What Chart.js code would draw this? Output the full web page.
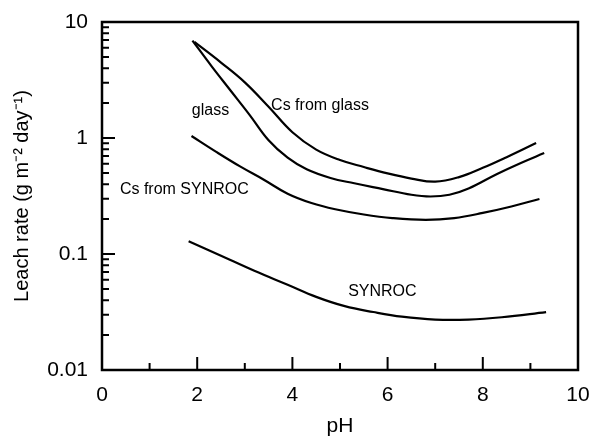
<!DOCTYPE html>
<html>
<head>
<meta charset="utf-8">
<script src="https://cdn.jsdelivr.net/npm/chart.js@4.4.1/dist/chart.umd.min.js"></script>
<style>
  html, body { margin: 0; padding: 0; background: #fff; }
  #wrap { width: 591px; height: 439px; }
</style>
</head>
<body>
<div id="wrap"><canvas id="leachChart" width="591" height="439"></canvas></div>
<script>
// pH / leach rate readings for each curve
const csGlassPh = [1.94, 2.5, 3.0, 3.5, 4.0, 4.5, 5.0, 5.5, 6.0, 6.5, 7.0, 7.5, 8.0, 8.5, 9.12];
const csGlassRate = [6.73, 4.47, 3.02, 1.86, 1.12, 0.794, 0.646, 0.562, 0.495, 0.447, 0.42, 0.46, 0.553, 0.684, 0.906];

const glassPh = [1.90, 2.3, 2.7, 3.1, 3.5, 3.9, 4.3, 4.8, 5.3, 5.9, 6.5, 6.9, 7.3, 7.7, 8.3, 8.8, 9.29];
const glassRate = [6.92, 4.17, 2.57, 1.585, 0.955, 0.676, 0.537, 0.452, 0.407, 0.363, 0.324, 0.313, 0.324, 0.367, 0.49, 0.61, 0.741];

const csSynrocPh = [1.88, 2.4, 2.9, 3.4, 3.9, 4.4, 4.9, 5.5, 6.1, 6.8, 7.4, 8.0, 8.6, 9.19];
const csSynrocRate = [1.04, 0.759, 0.569, 0.437, 0.331, 0.275, 0.243, 0.219, 0.204, 0.197, 0.204, 0.226, 0.257, 0.298];

const synrocPh = [1.82, 2.5, 3.2, 3.9, 4.5, 5.1, 5.7, 6.3, 7.0, 7.7, 8.4, 9.33];
const synrocRate = [0.129, 0.0966, 0.0716, 0.0543, 0.0427, 0.0355, 0.0316, 0.0288, 0.0272, 0.0272, 0.0285, 0.0316];

const decadeTicks = [0.01, 0.1, 1, 10];

// curve labels: [text, pH, rate]
const curveLabels = [
    ['glass', 2.28, 1.74],
    ['Cs from glass', 4.58, 1.92],
    ['Cs from SYNROC', 1.73, 0.356],
    ['SYNROC', 5.89, 0.047]
];

const FONT = "'Liberation Sans', Arial, Helvetica, sans-serif";

function toPoints(xs, ys) {
    return xs.map((x, i) => ({ x: x, y: ys[i] }));
}

function line(data) {
    return {
        data: data,
        borderColor: '#000',
        borderWidth: 2.2,
        pointRadius: 0,
        fill: false,
        tension: 0.4
    };
}

// box around plot + inward ticks + curve labels
const frame = {
    id: 'frame',
    afterDraw(chart) {
        const ctx = chart.ctx;
        const a = chart.chartArea;
        const xs = chart.scales.x, ys = chart.scales.y;
        ctx.save();
        ctx.strokeStyle = '#000';
        ctx.lineWidth = 2.5;
        ctx.strokeRect(a.left, a.top, a.right - a.left, a.bottom - a.top);

        ctx.lineWidth = 2;
        ctx.beginPath();
        for (let v = 1; v < 10; v++) {
            const px = xs.getPixelForValue(v);
            const len = v % 2 === 0 ? 13 : 7;
            ctx.moveTo(px, a.bottom);
            ctx.lineTo(px, a.bottom - len);
        }
        for (let d = 0; d < 3; d++) {
            const base = decadeTicks[d];
            for (let m = 1; m <= 9; m++) {
                if (m === 1 && d === 0) continue;
                const py = ys.getPixelForValue(base * m);
                const len = m === 1 ? 13 : 7;
                ctx.moveTo(a.left, py);
                ctx.lineTo(a.left + len, py);
            }
        }
        ctx.stroke();

        ctx.fillStyle = '#000';
        ctx.font = '16px ' + FONT;
        ctx.textAlign = 'center';
        ctx.textBaseline = 'middle';
        curveLabels.forEach(l => {
            ctx.fillText(l[0], xs.getPixelForValue(l[1]), ys.getPixelForValue(l[2]));
        });
        ctx.restore();
    }
};

new Chart(document.getElementById('leachChart'), {
    type: 'line',
    data: {
        datasets: [
            line(toPoints(csGlassPh, csGlassRate)),
            line(toPoints(glassPh, glassRate)),
            line(toPoints(csSynrocPh, csSynrocRate)),
            line(toPoints(synrocPh, synrocRate))
        ]
    },
    options: {
        responsive: false,
        animation: false,
        layout: { padding: { top: 22, right: 13, left: 0, bottom: 0 } },
        plugins: { legend: { display: false }, tooltip: { enabled: false } },
        scales: {
            x: {
                type: 'linear',
                min: 0,
                max: 10,
                grid: { display: false, drawTicks: false },
                border: { display: false },
                ticks: {
                    stepSize: 2,
                    padding: 13,
                    color: '#000',
                    font: { family: FONT, size: 21 }
                },
                title: {
                    display: true,
                    text: 'pH',
                    color: '#000',
                    font: { family: FONT, size: 21 },
                    padding: { top: 0, bottom: 0 }
                },
                afterFit(scale) {
                    scale.height = 69;
                    scale.paddingLeft = 0;
                    scale.paddingRight = 0;
                }
            },
            y: {
                type: 'logarithmic',
                min: 0.01,
                max: 10,
                grid: { display: false, drawTicks: false },
                border: { display: false },
                afterBuildTicks(scale) {
                    scale.ticks = decadeTicks.map(v => ({ value: v }));
                },
                ticks: {
                    padding: 14,
                    color: '#000',
                    font: { family: FONT, size: 21 },
                    callback: v => String(v)
                },
                title: {
                    display: true,
                    text: 'Leach rate (g m\u207B\u00B2 day\u207B\u00B9)',
                    color: '#000',
                    font: { family: FONT, size: 20 },
                    padding: { top: 10, bottom: 0 }
                },
                afterFit(scale) {
                    scale.width = 102;
                    scale.paddingTop = 0;
                    scale.paddingBottom = 0;
                }
            }
        }
    },
    plugins: [frame]
});
</script>
</body>
</html>
